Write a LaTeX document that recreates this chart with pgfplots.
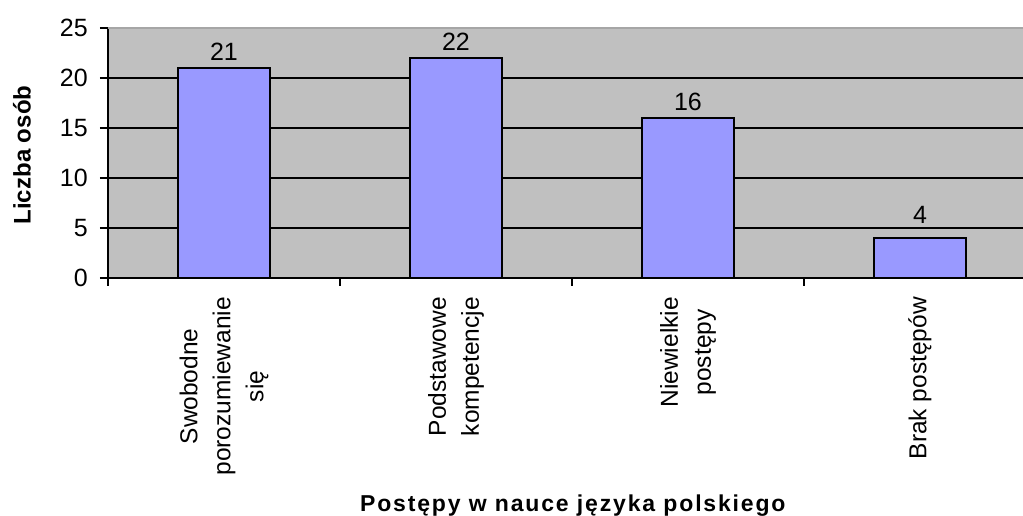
\documentclass[border=0pt]{standalone}
\usepackage{pgfplots}
\pgfplotsset{compat=1.18}
\usepackage{fontspec}
\setmainfont{Liberation Sans}
\definecolor{plotbg}{HTML}{C0C0C0}
\definecolor{barfill}{HTML}{9999FF}
\newcommand{\cf}{\fontsize{24.5}{33}\selectfont}
\newcommand{\nf}{\fontsize{25}{28}\selectfont}
\newcommand{\lf}{\fontsize{23}{28}\selectfont\bfseries\addfontfeatures{LetterSpace=8}}
\begin{document}
\begin{tikzpicture}[x=1pt,y=1pt]
\useasboundingbox (0,0) rectangle (1023,516);
\begin{axis}[
  at={(108pt,238pt)}, anchor=south west,
  scale only axis, width=915pt, height=250pt,
  xmin=-0.5, xmax=3.444, ymin=0, ymax=25,
  axis lines*=left, axis line style={-, line width=1.3pt, black},
  axis background/.style={fill=plotbg},
  ytick={0,5,...,25},
  ymajorgrids, grid style={black, line width=1.1pt},
  tick align=outside,
  major tick length=8pt, minor tick length=8pt,
  tick style={black, line width=1.1pt},
  xtick={0,1,2,3},
  major x tick style={draw=none},
  minor xtick={-0.5,0.5,1.5,2.5},
  xticklabels={{Swobodne\\porozumiewanie\\się},{Podstawowe\\kompetencje},{Niewielkie\\postępy},{Brak postępów}},
  xticklabel style={rotate=90, anchor=east, align=center, font=\cf, inner sep=0pt},
  xticklabel shift=11pt,
  yticklabel style={font=\nf, inner sep=0pt},
  yticklabel shift=12pt,
  /pgf/number format/assume math mode=true,
  xlabel={Postępy w nauce języka polskiego},
  xlabel style={font=\lf, at={(rel axis cs:0.508,-0.932)}, anchor=base},
  ylabel={Liczba osób},
  ylabel style={font=\fontsize{24}{28}\selectfont\bfseries, at={(rel axis cs:-0.094,0.492)}, anchor=center, rotate=0},
  nodes near coords,
  every node near coord/.append style={font=\nf, anchor=south, inner sep=0pt, black},
  clip=false,
]
\addplot[ybar, bar width=92pt, bar shift=0pt, fill=barfill, draw=black, line width=1.2pt,
  every node near coord/.append style={yshift=7pt}] coordinates {(0,21) (1,22) (2,16)};
\addplot[ybar, bar width=92pt, bar shift=0pt, fill=barfill, draw=black, line width=1.2pt,
  every node near coord/.append style={yshift=14pt}] coordinates {(3,4)};
\draw[gray!70, line width=1.2pt] (rel axis cs:0,1) -- (rel axis cs:1,1);
\end{axis}
\end{tikzpicture}
\end{document}
